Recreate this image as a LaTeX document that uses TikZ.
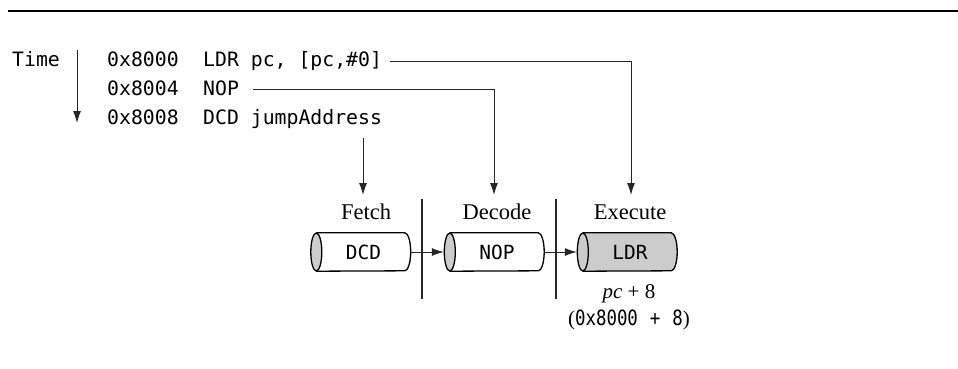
\documentclass[tikz,border=0pt]{standalone}
\usepackage{fontspec}
\setmainfont{Liberation Serif}
\newfontfamily\codefont{DejaVu Sans Mono}
\newfontfamily\narrowmono[FakeStretch=0.83]{DejaVu Sans Mono}
\usetikzlibrary{arrows.meta,backgrounds}
\definecolor{cylgray}{gray}{0.8}
\tikzset{
  conn/.style={line width=1pt, draw=black!85},
  arr/.style={conn, -{Latex[length=12pt,width=8pt]}},
  code/.style={font=\codefont\fontsize{19.8}{24}\selectfont, inner sep=0pt, anchor=base west},
  stage/.style={font=\fontsize{22.5}{26}\selectfont, inner sep=0pt, anchor=base},
  note/.style={font=\fontsize{21}{24}\selectfont, inner sep=0pt, anchor=base},
  cylbox/.style={minimum width=82pt, minimum height=38pt, inner sep=0pt, font=\codefont\fontsize{19.5}{22}\selectfont},
  sepline/.style={line width=1.2pt, draw=black!85},
  cylline/.style={line width=1.3pt, draw=black},
}
\begin{document}
\begin{tikzpicture}[x=1pt,y=-1pt]
\useasboundingbox (0,0) rectangle (958,368);
% top rule
\coordinate (r0) at (8,11);
\coordinate (r1) at (958,11);
\draw[line width=1.6pt] (r0) -- (r1);

% time
\node[code] (time) at (12,66) {Time};
\coordinate (t0) at (77,50);
\coordinate (t1) at (77,123);
\draw[arr] (t0) -- (t1);

% code listing
\node[code] (a1) at (107,66.5) {0x8000};
\node[code] (a2) at (107,95.3) {0x8004};
\node[code] (a3) at (107,124.1) {0x8008};
\node[code] (i1) at (203,66.5) {LDR pc, [pc,\#0]};
\node[code] (i2) at (203,95.3) {NOP};
\node[code] (i3) at (203,124.1) {DCD jumpAddress};

% stage labels
\node[stage] (fetch) at (366,219) {Fetch};
\node[stage] (decode) at (497,219) {Decode};
\node[stage] (exec) at (630,219) {Execute};

% separators
\coordinate (s1a) at (422,199);
\coordinate (s1b) at (422,299);
\coordinate (s2a) at (556,199);
\coordinate (s2b) at (556,299);
\draw[sepline] (s1a) -- (s1b);
\draw[sepline] (s2a) -- (s2b);

% cylinders
\node[cylbox] (dcd) at (363.5,252) {DCD};
\node[cylbox] (nop) at (497,252) {NOP};
\node[cylbox] (ldr) at (630,252) {LDR};
\begin{scope}[on background layer]
\foreach \n/\f in {dcd/white, nop/white, ldr/cylgray} {
  \fill[\f] ([xshift=-6pt]\n.north west) -- (\n.north east)
     arc[start angle=90, end angle=-90, x radius=6pt, y radius=19pt]
     -- ([xshift=-6pt]\n.south west) -- cycle;
  \draw[cylline] ([xshift=-6pt]\n.north west) -- (\n.north east)
     arc[start angle=90, end angle=-90, x radius=6pt, y radius=19pt]
     -- ([xshift=-6pt]\n.south west);
  \draw[cylline, fill=cylgray] ([xshift=-6pt]\n.west) ellipse [x radius=5.5pt, y radius=19pt];
}
\end{scope}
\draw[arr] ([xshift=6pt]dcd.east) -- ([xshift=-12pt]nop.west);
\draw[arr] ([xshift=6pt]nop.east) -- ([xshift=-12pt]ldr.west);

% connectors from listing to stages
\coordinate (l1) at (390,61);
\coordinate (l1t) at (631,195);
\draw[arr] (l1) -| (l1t);
\coordinate (l2) at (253,89);
\coordinate (l2t) at (494,195);
\draw[arr] (l2) -| (l2t);
\coordinate (l3) at (363,138);
\coordinate (l3t) at (363,195);
\draw[arr] (l3) -- (l3t);

% notes
\node[note] (pc) at (629,298) {\textit{pc} + 8};
\node[note] (addr) at (629,325) {({\narrowmono 0x8000\hspace{12pt}+\hspace{12pt}8})};
\end{tikzpicture}
\end{document}
